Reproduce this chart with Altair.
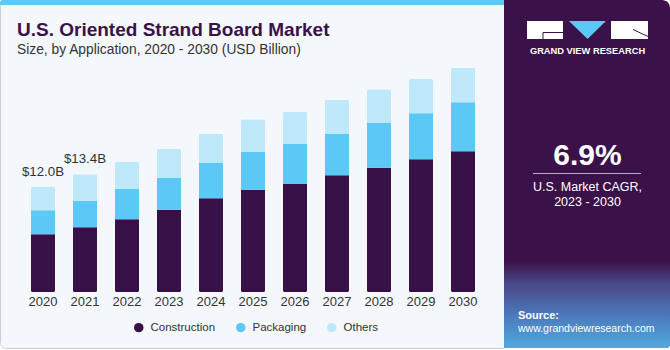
import altair as alt
import pandas as pd

# ---- data ----
years = ["2020", "2021", "2022", "2023", "2024", "2025", "2026", "2027", "2028", "2029", "2030"]
construction = [6.57, 7.37, 8.28, 9.37, 10.67, 11.65, 12.30, 13.29, 14.16, 15.11, 16.02]
packaging = [2.73, 3.03, 3.45, 3.64, 4.02, 4.33, 4.59, 4.74, 5.09, 5.24, 5.58]
others = [2.70, 3.00, 3.11, 3.30, 3.34, 3.69, 3.64, 3.87, 3.84, 3.91, 3.94]
segments = ["Construction", "Packaging", "Others"]
seg_colors = ["#371048", "#5BC8F5", "#BEE9FA"]
label_years = ["2020", "2021"]
label_texts = ["$12.0B", "$13.4B"]

FONT = "Liberation Sans"
W, H = 670, 350

rows = []
for i, y in enumerate(years):
    for k, (seg, vals) in enumerate(zip(segments, [construction, packaging, others])):
        rows.append({"year": y, "segment": seg, "value": vals[i], "ord": k})
df = pd.DataFrame(rows)

totals = {y: construction[i] + packaging[i] + others[i] for i, y in enumerate(years)}
lab_df = pd.DataFrame({"year": label_years, "text": label_texts,
                       "total": [totals[y] for y in label_years]})
year_df = pd.DataFrame({"year": years})

x_scale = alt.Scale(domain=years, range=[31, 475], paddingInner=0.4286, paddingOuter=0)
y_scale = alt.Scale(domain=[0, 30], range=[292, 292 - 30 * 8.78], nice=False, zero=True)

one = pd.DataFrame({"a": [0]})


def rect(x, x2, y, y2, **kw):
    return alt.Chart(one).mark_rect(**kw).encode(
        x=alt.value(x), x2=alt.value(x2), y=alt.value(y), y2=alt.value(y2))


def txt(s, x, y, **kw):
    return alt.Chart(one).mark_text(text=s, font=FONT, **kw).encode(
        x=alt.value(x), y=alt.value(y))


# background frame
frame = rect(0.5, 508, 0.5, 348.5, fill="#F4F8FC", stroke="#C9CDD2", strokeWidth=1, cornerRadius=6)
stripe = rect(0, 510, 0, 5, fill="#5BC8F5", cornerRadiusTopLeft=6)

# right panel
panel = rect(504, 670, 0, 348, fill="#3A1249", cornerRadiusTopRight=8, cornerRadiusBottomRight=4)
grad = rect(504, 670, 262, 348, cornerRadiusBottomRight=4,
            fill=alt.Gradient(gradient="linear",
                              stops=[alt.GradientStop(color="#3A1249", offset=0),
                                     alt.GradientStop(color="#4A4888", offset=0.25),
                                     alt.GradientStop(color="#4C7DBE", offset=0.65),
                                     alt.GradientStop(color="#4FAADE", offset=1)],
                              x1=0, x2=0, y1=0, y2=1))

logo_g = rect(527, 563, 21, 39, fill="white")
logo_r = rect(611, 648, 21, 39, fill="white")
logo_g_cut = alt.Chart(one).mark_rule(color="#3A1249", strokeWidth=1).encode(
    x=alt.value(543), x2=alt.value(563), y=alt.value(32.5))
logo_g_cut2 = alt.Chart(one).mark_rule(color="#3A1249", strokeWidth=1).encode(
    x=alt.value(543), y=alt.value(32.5), y2=alt.value(39))
logo_r_cut = alt.Chart(one).mark_rule(color="#3A1249", strokeWidth=1).encode(
    x=alt.value(633), x2=alt.value(648), y=alt.value(29.5), y2=alt.value(36.5))
logo_tri = alt.Chart(one).mark_point(shape="M-1,-0.49L1,-0.49L0,0.49Z", size=1369,
                                     filled=True, fill="#5BC8F5", opacity=1, strokeWidth=0).encode(
    x=alt.value(587.5), y=alt.value(30))
logo_txt = txt("GRAND VIEW RESEARCH", 587.5, 51, fontSize=9.3, fontWeight="bold", color="white",
               align="center", baseline="middle")

cagr = txt("6.9%", 587.5, 165, fontSize=30, fontWeight="bold", color="white",
           align="center", baseline="alphabetic")
cagr_line = alt.Chart(one).mark_rule(color="#B9A9C6", strokeWidth=1).encode(
    x=alt.value(533), x2=alt.value(641), y=alt.value(173.5))
cagr_l1 = txt("U.S. Market CAGR,", 587.5, 186.5, fontSize=12.5, color="white",
              align="center", baseline="middle")
cagr_l2 = txt("2023 - 2030", 587.5, 201.5, fontSize=12.5, color="white",
              align="center", baseline="middle")
src1 = txt("Source:", 518, 316, fontSize=11, fontWeight="bold", color="white",
           align="left", baseline="middle")
src2 = txt("www.grandviewresearch.com", 518, 329, fontSize=10.5, color="white",
           align="left", baseline="middle")

title = txt("U.S. Oriented Strand Board Market", 17, 36, fontSize=19, fontWeight="bold",
            color="#3A1249", align="left", baseline="alphabetic")
subtitle = txt("Size, by Application, 2020 - 2030 (USD Billion)", 17, 54, fontSize=13.8,
               color="#333333", align="left", baseline="alphabetic")

bars = alt.Chart(df).mark_bar(cornerRadius=1.5).encode(
    x=alt.X("year:N", scale=x_scale, axis=None, sort=years),
    y=alt.Y("value:Q", scale=y_scale, axis=None, stack="zero"),
    color=alt.Color("segment:N", scale=alt.Scale(domain=segments, range=seg_colors),
                    legend=alt.Legend(orient="none", legendX=133, legendY=321.5, direction="horizontal",
                                      title=None, symbolType="circle", symbolSize=90,
                                      symbolStrokeWidth=0, labelFont=FONT, labelFontSize=11.5,
                                      labelColor="#333333", labelOffset=6, columnPadding=19,
                                      padding=0)),
    order=alt.Order("ord:Q", sort="ascending"),
)

labels = alt.Chart(lab_df).mark_text(font=FONT, fontSize=13.3, color="#333333", baseline="alphabetic",
                                     dy=-11).encode(
    x=alt.X("year:N", scale=x_scale, axis=None, sort=years),
    y=alt.Y("total:Q", scale=y_scale, axis=None),
    text="text:N",
)

year_labels = alt.Chart(year_df).mark_text(font=FONT, fontSize=13, color="#333333",
                                           baseline="middle").encode(
    x=alt.X("year:N", scale=x_scale, axis=None, sort=years),
    y=alt.value(302),
    text="year:N",
)

chart = alt.layer(
    frame, stripe, panel, grad,
    logo_g, logo_r, logo_g_cut, logo_g_cut2, logo_r_cut, logo_tri, logo_txt,
    cagr, cagr_line, cagr_l1, cagr_l2, src1, src2,
    title, subtitle,
    bars, labels, year_labels,
).properties(
    width=W, height=H, background="white", padding=0, autosize="none"
).configure_view(strokeWidth=0)

chart.save("out.html", embed_options={"renderer": "svg", "actions": False})
